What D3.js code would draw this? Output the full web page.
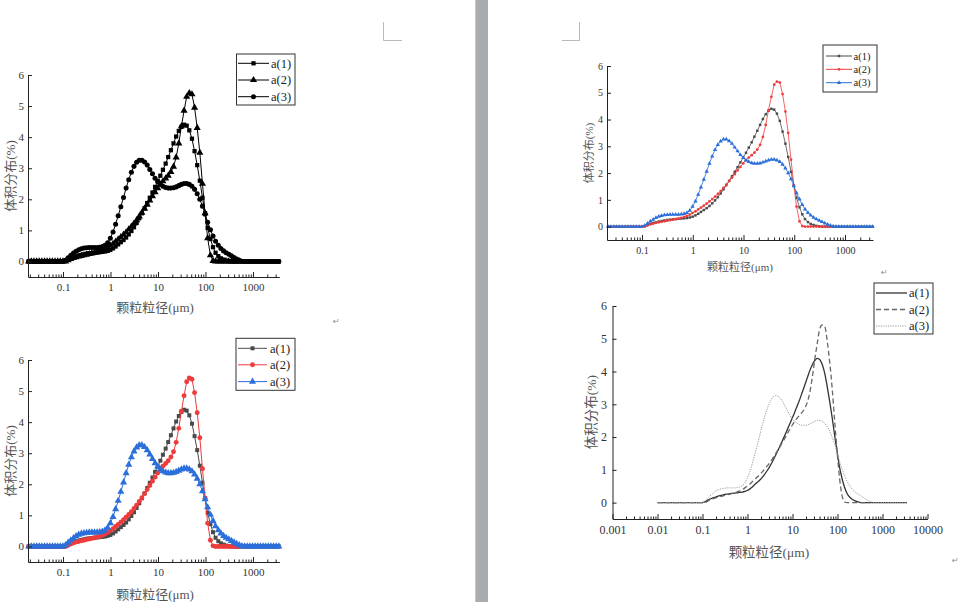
<!DOCTYPE html>
<html><head><meta charset="utf-8">
<script src="https://cdn.jsdelivr.net/npm/d3@7"></script>
<style>body{margin:0;background:#fff}svg{display:block}
.sf{font-family:"Liberation Serif","DejaVu Serif",serif}
.cj{font-family:"Liberation Serif","Noto Sans CJK SC",serif}
</style>
</head><body>
<svg id="c" width="964" height="602"></svg>
<script>
// ---- DATA ----
const sizes = [0.0100,0.0114,0.0129,0.0147,0.0167,0.0189,0.0215,0.0244,0.0278,0.0315,
 0.0358,0.0407,0.0463,0.0526,0.0597,0.0679,0.0771,0.0876,0.0995,0.113,
 0.128,0.146,0.166,0.188,0.214,0.243,0.276,0.314,0.357,0.405,
 0.460,0.523,0.594,0.675,0.767,0.872,0.991,1.13,1.28,1.45,
 1.65,1.88,2.13,2.42,2.75,3.12,3.55,4.03,4.58,5.21,
 5.92,6.72,7.64,8.68,9.86,11.2,12.7,14.5,16.4,18.7,
 21.2,24.1,27.4,31.1,35.4,40.2,45.6,51.9,58.9,66.9,
 76.0,86.4,98.1,111,127,144,163,186,211,240,
 272,310,352,400,454,516,586,666,756,859,
 976,1110,1260,1430,1630,1850,2100,2390,2710,3080,3500];
const a1 = [0,0,0,0,0,0,0,0,0,0, 0,0,0,0,0,0,0,0,0,0.02,
 0.07,0.11,0.14,0.16,0.19,0.21,0.23,0.25,0.26,0.27,
 0.28,0.29,0.30,0.31,0.32,0.34,0.37,0.42,0.48,0.55,
 0.62,0.69,0.77,0.87,0.98,1.10,1.24,1.39,1.55,1.71,
 1.88,2.05,2.22,2.40,2.58,2.76,2.95,3.15,3.36,3.58,
 3.80,4.02,4.20,4.33,4.40,4.37,4.22,3.95,3.55,3.10,
 2.60,2.05,1.55,1.08,0.72,0.46,0.28,0.17,0.10,0.06,
 0.03,0.01,0,0,0,0,0,0,0,0, 0,0,0,0,0,0,0,0,0,0,0];
const a2 = [0,0,0,0,0,0,0,0,0,0, 0,0,0,0,0,0,0,0,0,0,
 0.04,0.08,0.11,0.14,0.16,0.18,0.20,0.22,0.24,0.26,
 0.28,0.30,0.33,0.36,0.40,0.45,0.51,0.57,0.64,0.71,
 0.78,0.86,0.94,1.03,1.12,1.22,1.33,1.45,1.57,1.70,
 1.83,1.96,2.10,2.23,2.36,2.48,2.58,2.67,2.76,2.88,
 3.05,3.35,3.80,4.35,4.85,5.30,5.42,5.38,4.95,4.30,
 3.50,2.50,1.55,0.75,0.20,0.02,0,0,0,0,
 0,0,0,0,0,0,null,null,null,null, null,null,null,null,null,null,null,null,null,null,null];
const a3 = [0,0,0,0,0,0,0,0,0,0, 0,0,0,0,0,0,0,0,0,0.04,
 0.12,0.20,0.27,0.33,0.38,0.41,0.43,0.44,0.45,0.45,
 0.45,0.45,0.46,0.48,0.52,0.60,0.75,0.95,1.20,1.47,
 1.76,2.06,2.36,2.63,2.87,3.06,3.19,3.26,3.26,3.20,
 3.10,2.96,2.82,2.68,2.57,2.48,2.42,2.38,2.36,2.36,
 2.37,2.40,2.44,2.48,2.51,2.51,2.48,2.42,2.32,2.18,
 2.00,1.78,1.52,1.26,1.02,0.82,0.65,0.52,0.42,0.34,
 0.28,0.23,0.18,0.13,0.08,0.04,0.01,0,0,0, 0,0,0,0,0,0,0,0,0,0,0];
const seriesNames = ["a(1)","a(2)","a(3)"];
const yTicks = [0,1,2,3,4,5,6];
const xTicksShort = [0.1,1,10,100,1000];
const xTickLabelsShort = ["0.1","1","10","100","1000"];
const xTicksLong = [0.001,0.01,0.1,1,10,100,1000,10000];
const xTickLabelsLong = ["0.001","0.01","0.1","1","10","100","1000","10000"];
const yTitle = "体积分布(%)";
const xTitle = "颗粒粒径(μm)";

// ---- PAGE ----
const svg = d3.select("#c");
svg.append("rect").attr("x",0).attr("y",0).attr("width",964).attr("height",602).attr("fill","#fff");
svg.append("rect").attr("x",475).attr("y",0).attr("width",13).attr("height",602).attr("fill","#a9acaf");
svg.append("line").attr("x1",475.5).attr("x2",475.5).attr("y1",0).attr("y2",602).attr("stroke","#c6c8ca");
const cm = "#b9b9b9";
svg.append("path").attr("d","M383.5,22V40.5H402").attr("fill","none").attr("stroke",cm);
svg.append("path").attr("d","M579.5,22V40.5H562").attr("fill","none").attr("stroke",cm);
[[333,324],[881,275],[952,563]].forEach(p=>{
  svg.append("text").attr("x",p[0]).attr("y",p[1]).style("font-family","DejaVu Sans").style("font-size","8px").attr("fill","#888").text("↵");
});

const styles = {
  mono: [
    {arr:a1,color:"#000",sym:d3.symbolSquare,size:18},
    {arr:a2,color:"#000",sym:d3.symbolTriangle,size:22},
    {arr:a3,color:"#000",sym:d3.symbolCircle,size:20}],
  color: [
    {arr:a1,color:"#4a4a4a",sym:d3.symbolSquare,size:16},
    {arr:a2,color:"#ee3b3b",sym:d3.symbolCircle,size:19},
    {arr:a3,color:"#2b6fdb",sym:d3.symbolTriangle,size:22}],
  small: [
    {arr:a1,color:"#4a4a4a",sym:d3.symbolSquare,size:6},
    {arr:a2,color:"#ee3b3b",sym:d3.symbolCircle,size:6},
    {arr:a3,color:"#2b6fdb",sym:d3.symbolTriangle,size:8}],
  lines: [
    {arr:a1,color:"#333",dash:null,w:1.3},
    {arr:a2,color:"#666",dash:"5,3",w:1.3},
    {arr:a3,color:"#9a9a9a",dash:"1.2,1.2",w:1}]
};

const panels = [
  {style:"mono", x0:28, x1:279.4, dom:[0.0183,3600], yTop:75, yBot:277, ticks:xTicksShort, labels:xTickLabelsShort,
   tf:11, tpad:6, ypad:4, ttf:13, yT:[10,176], xT:[155,311.5],
   leg:{x:236.5,y:54,w:58.5,h:51,rows:[63.3,80,96.7],l0:238,l1:269,m:253.5,t:271,f:12.5}},
  {style:"color", x0:28, x1:279.4, dom:[0.0183,3600], yTop:360, yBot:562, ticks:xTicksShort, labels:xTickLabelsShort,
   tf:11, tpad:6, ypad:4, ttf:13, yT:[10,461], xT:[155,599],
   leg:{x:236,y:338.3,w:59,h:52,rows:[348.3,364.8,381.6],l0:238,l1:267,m:252.5,t:270,f:12.5}},
  {style:"small", x0:607, x1:873, dom:[0.0204,3565], yTop:66, yBot:240, ticks:xTicksShort, labels:xTickLabelsShort,
   tf:10, tpad:7, ypad:4, ttf:11, yT:[589,153], xT:[740,271],
   leg:{x:823,y:45,w:54,h:47,rows:[56,69.3,82.7],l0:826,l1:852,m:839,t:853.5,f:10.5}},
  {style:"lines", x0:612.5, x1:927.5, dom:[0.001,10000], yTop:306, yBot:519, ticks:xTicksLong, labels:xTickLabelsLong,
   tf:12, tpad:6.5, ypad:5.5, ttf:13.5, yT:[591,412], xT:[769,556.5],
   leg:{x:874,y:283,w:59,h:51,rows:[293,309.5,326],l0:876,l1:907,t:909,f:12.5}}
];

function minorTicks(dom){
  const out=[];
  const lo=Math.floor(Math.log10(dom[0])), hi=Math.ceil(Math.log10(dom[1]));
  for(let e=lo;e<hi;e++){ for(let k=2;k<=9;k++){ const v=k*Math.pow(10,e); if(v>=dom[0]&&v<=dom[1]) out.push(v);} }
  return out;
}

panels.forEach(p=>{
  const g = svg.append("g");
  const x = d3.scaleLog().domain(p.dom).range([p.x0,p.x1]);
  const y = d3.scaleLinear().domain([-0.5,6]).range([p.yBot,p.yTop]);
  const st = styles[p.style];
  st.forEach(s=>{
    const pts = sizes.map((sz,i)=>({s:sz,v:s.arr[i]})).filter(d=>d.v!=null && d.s>=p.dom[0] && d.s<=p.dom[1]);
    if(p.style==="lines"){
      g.append("path").datum(pts)
        .attr("d",d3.line().x(d=>x(d.s)).y(d=>y(d.v)).curve(d3.curveMonotoneX))
        .attr("fill","none").attr("stroke",s.color).attr("stroke-width",s.w)
        .attr("stroke-dasharray",s.dash);
    } else {
      g.append("path").datum(pts)
        .attr("d",d3.line().x(d=>x(d.s)).y(d=>y(d.v)))
        .attr("fill","none").attr("stroke",s.color).attr("stroke-width",p.style==="small"?0.8:1);
      g.selectAll(null).data(pts).join("path")
        .attr("transform",d=>`translate(${x(d.s)},${y(d.v)})`)
        .attr("d",d3.symbol().type(s.sym).size(s.size)())
        .attr("fill",s.color);
    }
  });
  // axes
  const xa = g.append("g").attr("transform",`translate(0,${p.yBot})`)
    .call(d3.axisBottom(x).tickValues(p.ticks).tickFormat((d,i)=>p.labels[i]).tickSize(-5).tickSizeOuter(0).tickPadding(p.tpad));
  const xm = g.append("g").attr("transform",`translate(0,${p.yBot})`)
    .call(d3.axisBottom(x).tickValues(minorTicks(p.dom)).tickFormat("").tickSize(-2.5).tickSizeOuter(0));
  xm.select(".domain").remove();
  const ya = g.append("g").attr("transform",`translate(${p.x0},0)`)
    .call(d3.axisLeft(y).tickValues(yTicks).tickFormat(d3.format("d")).tickSize(-4).tickSizeOuter(0).tickPadding(p.ypad));
  [xa,xm,ya].forEach(a=>{
    a.attr("font-family",null).attr("font-size",null);
    a.selectAll("path,line").attr("stroke","#222").attr("stroke-width",1);
    a.selectAll("text").attr("class","sf").style("font-size",p.tf+"px").attr("fill","#333");
  });
  // titles
  g.append("text").attr("transform",`translate(${p.yT[0]},${p.yT[1]}) rotate(-90)`)
    .attr("text-anchor","middle").attr("dy","0.35em").attr("class","cj").style("font-size",p.ttf+"px").attr("fill","#555").text(yTitle);
  g.append("text").attr("x",p.xT[0]).attr("y",p.xT[1]).attr("text-anchor","middle")
    .attr("class","cj").style("font-size",p.ttf+"px").attr("fill","#555").text(xTitle);
  // legend
  const L = p.leg;
  g.append("rect").attr("x",L.x).attr("y",L.y).attr("width",L.w).attr("height",L.h)
    .attr("fill","#fff").attr("stroke","#333").attr("stroke-width",1);
  st.forEach((s,i)=>{
    const ry=L.rows[i];
    const ln = g.append("line").attr("x1",L.l0).attr("x2",L.l1).attr("y1",ry).attr("y2",ry)
      .attr("stroke",s.color).attr("stroke-width",p.style==="lines"?s.w:1);
    if(p.style==="lines"){ ln.attr("stroke-dasharray",s.dash); }
    else {
      g.append("path").attr("transform",`translate(${L.m},${ry})`)
        .attr("d",d3.symbol().type(s.sym).size(s.size)()).attr("fill",s.color);
    }
    g.append("text").attr("x",L.t).attr("y",ry).attr("dy","0.35em").attr("class","sf")
      .style("font-size",L.f+"px").attr("fill","#222").text(seriesNames[i]);
  });
});
</script>
</body></html>
